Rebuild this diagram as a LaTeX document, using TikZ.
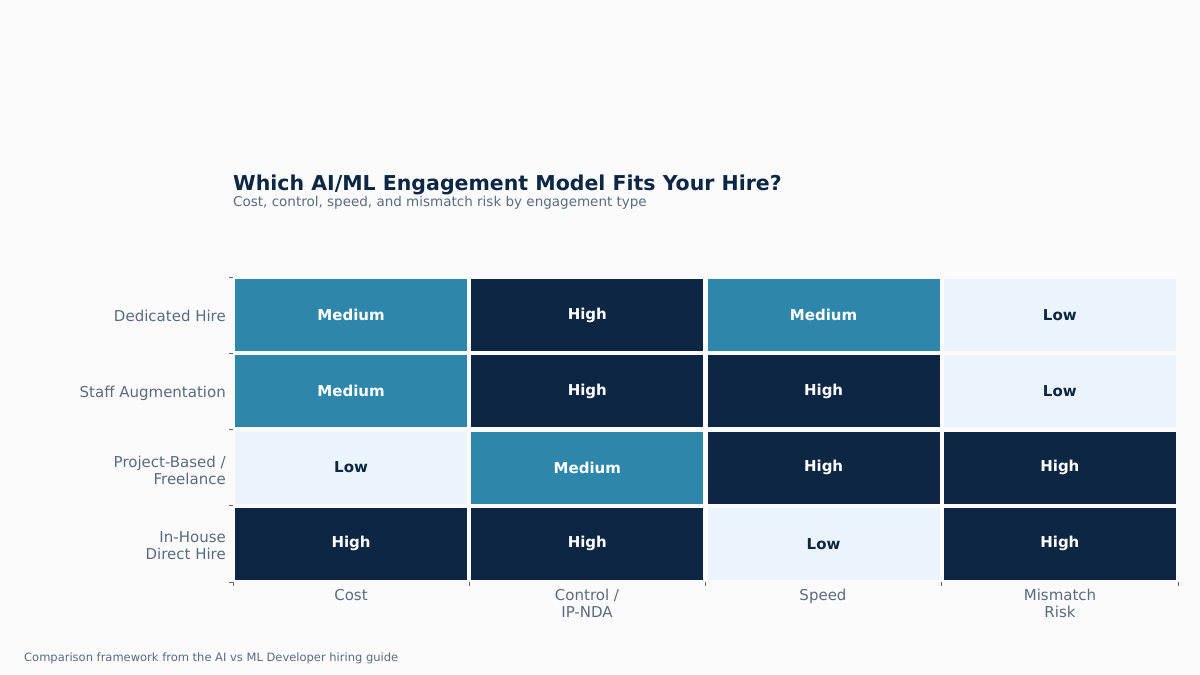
\documentclass[tikz,border=0pt]{standalone}
\usepackage{fontspec}
\setmainfont{DejaVu Sans}
\definecolor{bg}{HTML}{FBFBFB}
\definecolor{dk}{HTML}{0C2643}
\definecolor{md}{HTML}{2E86AB}
\definecolor{lt}{HTML}{EAF4FA}
\definecolor{gr}{HTML}{5A6A80}
\begin{document}
\begin{tikzpicture}[x=1pt,y=-1pt,
 cell/.style={minimum width=232pt,minimum height=72pt,inner sep=0pt,font=\fontsize{15}{18}\selectfont\bfseries},
 D/.style={cell,fill=dk,text=white},
 M/.style={cell,fill=md,text=white},
 L/.style={cell,fill=lt,text=dk},
 lab/.style={text=gr,font=\fontsize{15}{17}\selectfont,inner sep=0pt}]
\fill[bg] (0,0) rectangle (1200,675);
\useasboundingbox (0,0) rectangle (1200,675);
\node[anchor=base west,text=dk,font=\fontsize{20.5}{24}\selectfont\bfseries,inner sep=0pt] (t) at (233,190) {Which AI/ML Engagement Model Fits Your Hire?};
\node[anchor=base west,text=gr,font=\fontsize{13.5}{16}\selectfont,inner sep=0pt] (s) at (233,206) {Cost, control, speed, and mismatch risk by engagement type};
\def\cx#1{\fpeval{233+236.25*#1+118.1}}
\foreach \r/\a/\b/\c/\d in {0/M/D/M/L,1/M/D/D/L,2/L/M/D/D,3/D/D/L/D}{
 \pgfmathsetmacro\yy{277+76.25*\r+38.1}
 \foreach \col/\s in {0/\a,1/\b,2/\c,3/\d}{
  \pgfmathsetmacro\xx{233+236.25*\col+118.1}
  \node[\s] (c\r\col) at (\xx,\yy) {};
 }}
\foreach \r/\a/\b/\c/\d in {0/Medium/High/Medium/Low,1/Medium/High/High/Low,2/Low/Medium/High/High,3/High/High/Low/High}{
 \foreach \col/\t in {0/\a,1/\b,2/\c,3/\d}{
  \node[font=\fontsize{15}{18}\selectfont\bfseries,text=white] at (c\r\col) {};
 }}
% texts
\foreach \n/\t/\k in {c00/Medium/white,c01/High/white,c02/Medium/white,c03/Low/dk,
 c10/Medium/white,c11/High/white,c12/High/white,c13/Low/dk,
 c20/Low/dk,c21/Medium/white,c22/High/white,c23/High/white,
 c30/High/white,c31/High/white,c32/Low/dk,c33/High/white}
 \node[text=\k,font=\fontsize{15}{18}\selectfont\bfseries] at (\n) {\t};
% ticks
\foreach \y in {277,353.25,429.5,505.75,582} \draw[gr,line width=0.6pt] (229,\y)--(233,\y);
\foreach \x in {233,469.25,705.5,941.75,1178} \draw[gr,line width=0.6pt] (\x,582)--(\x,586);
% row labels
\node[lab,anchor=east] (r0) at (226,316) {Dedicated Hire};
\node[lab,anchor=east] (r1) at (226,393) {Staff Augmentation};
\node[lab,anchor=east,align=right] (r2) at (226,470) {Project-Based /\\Freelance};
\node[lab,anchor=east,align=right] (r3) at (226,546) {In-House\\Direct Hire};
% column labels
\node[lab,anchor=north] (k0) at (351,589) {Cost};
\node[lab,anchor=north,align=center] (k1) at (587,589) {Control /\\IP-NDA};
\node[lab,anchor=north] (k2) at (823,589) {Speed};
\node[lab,anchor=north,align=center] (k3) at (1060,589) {Mismatch\\Risk};
\node[anchor=base west,text=gr,font=\fontsize{11.5}{14}\selectfont,inner sep=0pt] (f) at (24,661) {Comparison framework from the AI vs ML Developer hiring guide};
\end{tikzpicture}
\end{document}
